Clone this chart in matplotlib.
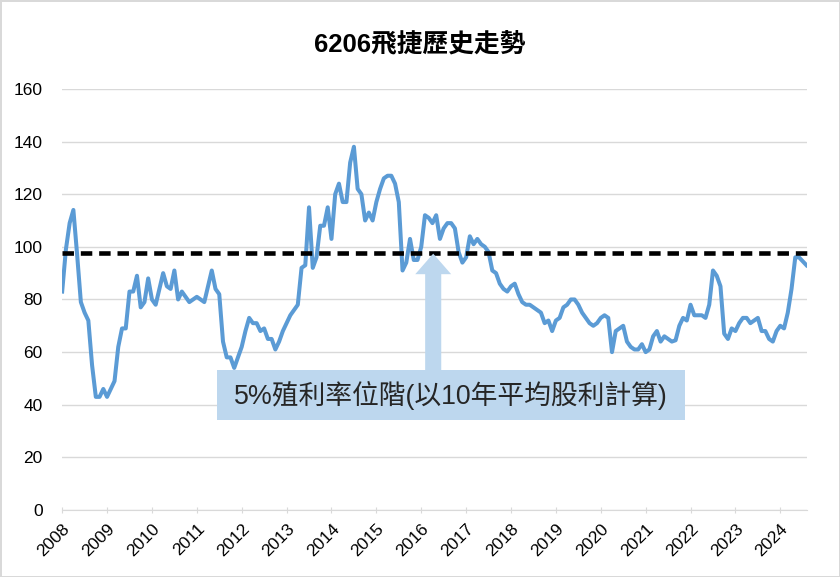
import matplotlib
matplotlib.use("Agg")
import matplotlib.pyplot as plt
from matplotlib.patches import Rectangle, FancyArrow

plt.rcParams['font.family'] = ['Liberation Sans', 'Noto Sans CJK TC']

# monthly price, Jan 2008 .. Aug 2024
price = [
    83, 99, 109, 114, 97, 79, 75, 72, 55, 43,
    43, 46, 43, 46, 49, 62, 69, 69, 83, 83,
    89, 77, 79, 88, 80, 78, 84, 90, 85, 84,
    91, 80, 83, 81, 79, 80, 81, 80, 79, 85,
    91, 84, 82, 64, 58, 58, 54, 58, 62, 68,
    73, 71, 71, 68, 69, 65, 65, 61, 64, 68,
    71, 74, 76, 78, 92, 93, 115, 92, 96, 108,
    108, 115, 103, 120, 124, 117, 117, 132, 138, 122,
    120, 110, 113, 110, 117, 122, 126, 127, 127, 124,
    117, 91, 94, 103, 95, 95, 100, 112, 111, 109,
    112, 103, 107, 109, 109, 107, 98, 94, 96, 104,
    101, 103, 101, 100, 98, 91, 90, 86, 84, 83,
    85, 86, 82, 79, 78, 78, 77, 76, 75, 71,
    72, 68, 72, 73, 77, 78, 80, 80, 78, 75,
    73, 71, 70, 71, 73, 74, 73, 60, 68, 69,
    70, 64, 62, 61, 61, 63, 60, 61, 66, 68,
    64, 66, 65, 64, 64.5, 70, 73, 72, 78, 74,
    74, 74, 73, 78, 91, 89, 85, 67, 65, 69,
    68, 71, 73, 73, 71, 72, 73, 68, 68, 65,
    64, 68, 70, 69, 75, 84, 96, 96, 94.5, 93,
]
years = list(range(2008, 2025))
yield_level = 97.5
title = "6206飛捷歷史走勢"
note = "5%殖利率位階(以10年平均股利計算)"

fig = plt.figure(figsize=(8.4, 5.77), dpi=100)
fig.patch.set_edgecolor('#d9d9d9')
fig.patch.set_linewidth(2)
ax = fig.add_axes([0.074, 0.116, 0.887, 0.730])

months = list(range(len(price)))
ax.plot(months, price, color='#5b9bd5', lw=2.9, solid_joinstyle='round', zorder=3)
ax.plot([0, len(price)], [yield_level, yield_level], color='black', lw=3.3,
        dashes=(2.5, 1.5), clip_on=False, zorder=4)

ax.set_xlim(0, len(price) - 0.8)
ax.set_ylim(0, 160)
ax.set_yticks(range(0, 161, 20))
ax.set_xticks([12 * i for i in range(len(years))])
ax.set_xticklabels([str(y) for y in years], rotation=45, ha='right', va='top',
                   rotation_mode='anchor')
ax.tick_params(axis='y', length=0, pad=14, labelsize=12.5)
ax.tick_params(axis='x', length=4, direction='inout', color='#d9d9d9', pad=6, labelsize=12.5)
ax.grid(axis='y', color='#d9d9d9', lw=1)
ax.set_axisbelow(True)
for s in ['top', 'right', 'left']:
    ax.spines[s].set_visible(False)
ax.spines['bottom'].set_color('#d9d9d9')

# annotation box and arrow
ax.add_patch(Rectangle((41.4, 34.2), 125.2, 19.0, facecolor='#bdd7ee',
                       edgecolor='none', zorder=5, clip_on=False))
ax.text(104, 43.5, note, ha='center', va='center', fontsize=19.3, color='#262626', zorder=6)
ax.add_patch(FancyArrow(99.2, 53.2, 0, 44.2, width=4.3,
                        head_width=9.6, head_length=7.8, length_includes_head=True,
                        facecolor='#bdd7ee', edgecolor='none', zorder=5))

fig.text(0.5, 0.922, title, ha='center', va='center', fontsize=18.5, fontweight='bold')

fig.savefig("out.png", dpi=100)
